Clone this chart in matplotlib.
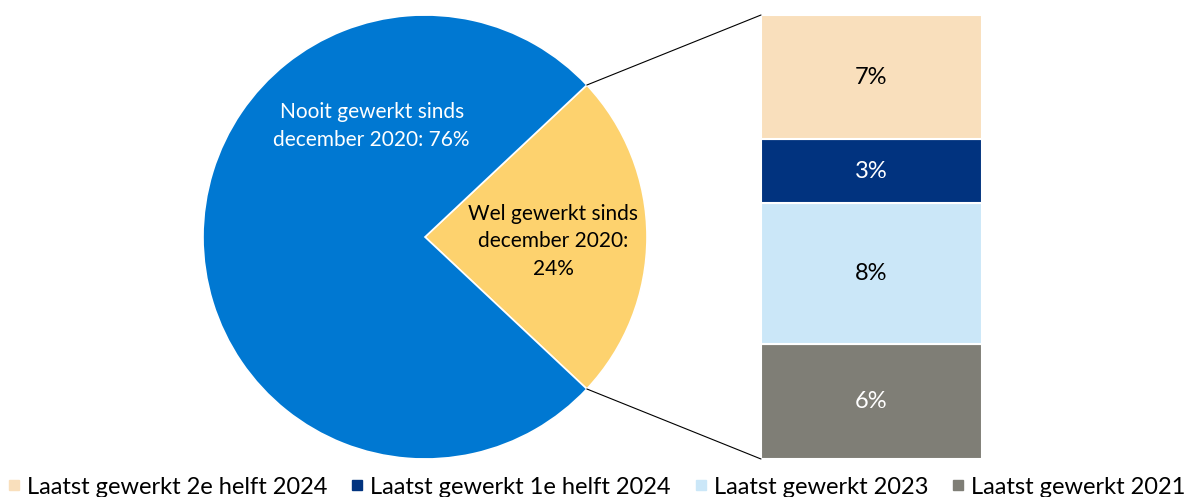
import matplotlib
matplotlib.use("Agg")
import numpy as np
import matplotlib.pyplot as plt
from matplotlib.patches import ConnectionPatch
from matplotlib.lines import Line2D

plt.rcParams['font.family'] = ['Lato', 'DejaVu Sans']

# pie: share who worked since December 2020
pie_labels = ["Wel gewerkt sinds\ndecember 2020:\n24%", "Nooit gewerkt sinds\ndecember 2020: 76%"]
pie_values = [24, 76]
pie_colors = ['#fdd26e', '#0078d2']
pie_text_colors = ['black', 'white']

# stacked bar: when last worked (bottom to top)
bar_labels = ["Laatst gewerkt 2021", "Laatst gewerkt 2023",
              "Laatst gewerkt 1e helft 2024", "Laatst gewerkt 2e helft 2024"]
bar_values = [6.2, 7.6, 3.45, 6.7]
bar_colors = ['#7f7e76', '#cbe7f8', '#01337f', '#f9dfbc']
bar_text_colors = ['white', 'black', 'white', 'black']

W, H = 1187, 497
fig = plt.figure(figsize=(W / 100, H / 100), dpi=100)

# pie axes
ax_pie = fig.add_axes([203 / W, 38 / H, 444 / W, 444 / H])
half = pie_values[0] / 100 * 360 / 2
wedges, _ = ax_pie.pie(pie_values, colors=pie_colors, startangle=-half, radius=1,
                       wedgeprops=dict(edgecolor='white', linewidth=1.2))
ax_pie.set_xlim(-1, 1)
ax_pie.set_ylim(-1, 1)
ax_pie.set_aspect('equal')
ax_pie.axis('off')

ax_pie.text(0.577, -0.02, pie_labels[0], ha='center', va='center', fontsize=15,
            color=pie_text_colors[0], linespacing=1.45)
ax_pie.text(-0.24, 0.5, pie_labels[1], ha='center', va='center', fontsize=15,
            color=pie_text_colors[1], linespacing=1.45)

# bar axes
ax_bar = fig.add_axes([761 / W, 38 / H, 221 / W, 444 / H])
total = sum(bar_values)
bottom = 0
for v, c, tc in zip(bar_values, bar_colors, bar_text_colors):
    ax_bar.bar(0, v, bottom=bottom, width=1, color=c, edgecolor='white', linewidth=1.5)
    ax_bar.text(0, bottom + v / 2, f"{round(v)}%", ha='center', va='center',
                fontsize=17, color=tc)
    bottom += v
ax_bar.set_xlim(-0.5, 0.5)
ax_bar.set_ylim(0, total)
ax_bar.axis('off')

# connector lines from the yellow wedge to the bar
w = wedges[0]
for ang, yb in [(w.theta2, total), (w.theta1, 0)]:
    xa, ya = np.cos(np.radians(ang)), np.sin(np.radians(ang))
    con = ConnectionPatch(xyA=(xa, ya), coordsA=ax_pie.transData,
                          xyB=(-0.5, yb), coordsB=ax_bar.transData,
                          color='black', linewidth=0.8)
    fig.add_artist(con)

# legend
handles = [Line2D([], [], marker='s', linestyle='none', markersize=7.3,
                  markerfacecolor=c, markeredgecolor=c)
           for c in bar_colors[::-1]]
fig.legend(handles, bar_labels[::-1], loc='center left', bbox_to_anchor=(0.0076, 0.02),
           ncol=4, frameon=False, fontsize=17, handlelength=0.42, handletextpad=0.34,
           columnspacing=1.06, borderaxespad=0, borderpad=0)

fig.savefig("out.png", dpi=100)
